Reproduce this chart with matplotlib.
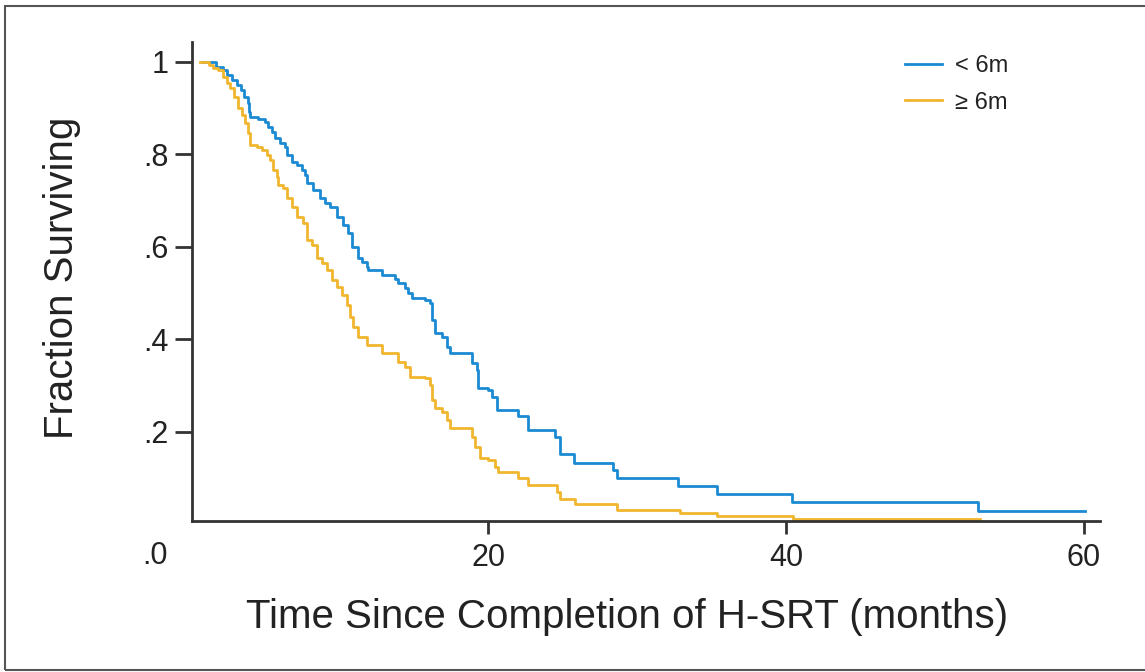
import numpy as np
import matplotlib
matplotlib.use('Agg')
import matplotlib.pyplot as plt
from matplotlib.patches import Rectangle

#Data
#--------------------------------
t_short = [0.8, 1.68, 2.15, 2.48, 2.82, 3.15, 3.36, 3.56, 3.83, 3.96, 4.03, 4.56, 5.03, 5.23,
           5.50, 5.70, 6.04, 6.38, 6.51, 6.85, 7.18, 7.52, 7.72, 7.85, 8.26, 8.72, 9.06, 9.40,
           9.87, 10.27, 10.60, 10.87, 11.28, 11.54, 11.88, 11.95, 12.89, 13.76, 13.96, 14.43,
           14.63, 14.90, 15.77, 16.11, 16.24, 16.44, 16.91, 17.25, 17.45, 18.93, 19.26, 19.33,
           20.0, 20.27, 20.60, 22.01, 22.68, 24.50, 24.83, 25.77, 28.39, 28.66, 32.75, 35.37,
           40.40, 52.89, 60.07]
s_short = [1.0, 0.989, 0.983, 0.972, 0.961, 0.950, 0.939, 0.924, 0.911, 0.892, 0.881, 0.877,
           0.870, 0.859, 0.849, 0.836, 0.825, 0.816, 0.799, 0.784, 0.777, 0.766, 0.756, 0.738,
           0.723, 0.706, 0.695, 0.687, 0.665, 0.648, 0.630, 0.600, 0.576, 0.568, 0.557, 0.550,
           0.539, 0.531, 0.522, 0.511, 0.501, 0.490, 0.485, 0.479, 0.442, 0.414, 0.405, 0.384,
           0.371, 0.349, 0.334, 0.295, 0.291, 0.276, 0.248, 0.235, 0.204, 0.189, 0.152, 0.133,
           0.118, 0.101, 0.083, 0.066, 0.049, 0.029, 0.029]

t_long = [0.67, 1.21, 1.54, 1.88, 2.15, 2.48, 2.68, 2.89, 3.22, 3.49, 3.69, 3.89, 4.03, 4.50,
          4.83, 5.17, 5.37, 5.57, 5.84, 5.91, 6.24, 6.51, 6.85, 7.18, 7.58, 7.85, 8.19, 8.52,
          8.86, 9.19, 9.53, 9.87, 10.20, 10.54, 10.74, 10.94, 11.28, 11.88, 12.89, 13.96, 14.43,
          14.77, 15.77, 16.11, 16.24, 16.44, 16.91, 17.25, 17.45, 18.93, 19.13, 19.46, 20.0,
          20.47, 20.67, 22.01, 22.68, 24.63, 24.83, 25.84, 28.66, 32.89, 35.37, 40.47, 53.02]
s_long = [1.0, 0.993, 0.987, 0.983, 0.968, 0.955, 0.944, 0.924, 0.901, 0.885, 0.868, 0.846,
          0.820, 0.816, 0.810, 0.799, 0.788, 0.766, 0.751, 0.734, 0.728, 0.706, 0.687, 0.665,
          0.652, 0.615, 0.604, 0.576, 0.565, 0.550, 0.529, 0.514, 0.496, 0.475, 0.449, 0.427,
          0.405, 0.388, 0.371, 0.351, 0.341, 0.319, 0.317, 0.302, 0.269, 0.252, 0.243, 0.226,
          0.209, 0.189, 0.168, 0.144, 0.139, 0.124, 0.114, 0.101, 0.085, 0.070, 0.055, 0.044,
          0.031, 0.025, 0.018, 0.012, 0.012]

labels = ['< 6m', '\u2265 6m']
colors = ['#1b8ad3', '#f0b62e']
xticks = [20, 40, 60]
yticks = [0.2, 0.4, 0.6, 0.8, 1.0]
ytick_labels = ['.2', '.4', '.6', '.8', '1']
#--------------------------------

#Figure settings
font = ['Liberation Sans', 'DejaVu Sans']
size_axis = 29; size_ticks = 22; size_leg = 17
line_w = 2.0; spine_c = '#333333'; text_c = '#222222'

fig = plt.figure(figsize=(11.45, 6.72), dpi=100)
ax = fig.add_axes([192/1145, 1-521/672, 908/1145, 479/672])

ax.plot(t_short, s_short, drawstyle='steps-post', color=colors[0], lw=line_w, label=labels[0])
ax.plot(t_long, s_long, drawstyle='steps-post', color=colors[1], lw=line_w, label=labels[1])

ax.set_xlim(0.1, 61.1)
ax.set_ylim(0.0076, 1.043)

for s in ['top', 'right']:
    ax.spines[s].set_visible(False)
for s in ['left', 'bottom']:
    ax.spines[s].set_linewidth(2)
    ax.spines[s].set_color(spine_c)

ax.set_xticks(xticks)
ax.set_xticklabels([str(v) for v in xticks], fontsize=size_ticks, family=font, color=text_c)
ax.set_yticks(yticks)
ax.set_yticklabels(ytick_labels, fontsize=size_ticks, family=font, color=text_c)
ax.tick_params(axis='x', length=9, width=2, color=spine_c, pad=7)
ax.tick_params(axis='y', length=12, width=2, color=spine_c, pad=5)

# corner label for zero
fig.text(155/1145, 1-556/672, '.0', fontsize=size_ticks, family=font, color=text_c,
         ha='center', va='center')

#Labels
ax.set_xlabel('Time Since Completion of H-SRT (months)', fontsize=size_axis, family=font,
              color=text_c, va='center', ha='center')
ax.xaxis.set_label_coords((627-192)/908, (521-617)/479)
ax.set_ylabel('Fraction Surviving', fontsize=size_axis, family=font, color=text_c,
              va='center', ha='center')
ax.yaxis.set_label_coords((62-192)/908, (521-278)/479)

leg = ax.legend(loc='upper left', bbox_to_anchor=(905/1145, 1-55/672),
                bbox_transform=fig.transFigure, frameon=False,
                prop={'family': font, 'size': size_leg},
                handlelength=1.55, handletextpad=0.55, labelspacing=0.62,
                borderpad=0, borderaxespad=0)
for txt in leg.get_texts():
    txt.set_color(text_c)

# outer frame
fig.patches.append(Rectangle((5/1145, 2/672), 1.2, 1-8/672, transform=fig.transFigure,
                             fill=False, edgecolor='#555555', lw=1.5, figure=fig))

plt.savefig('out.png', dpi=100)
